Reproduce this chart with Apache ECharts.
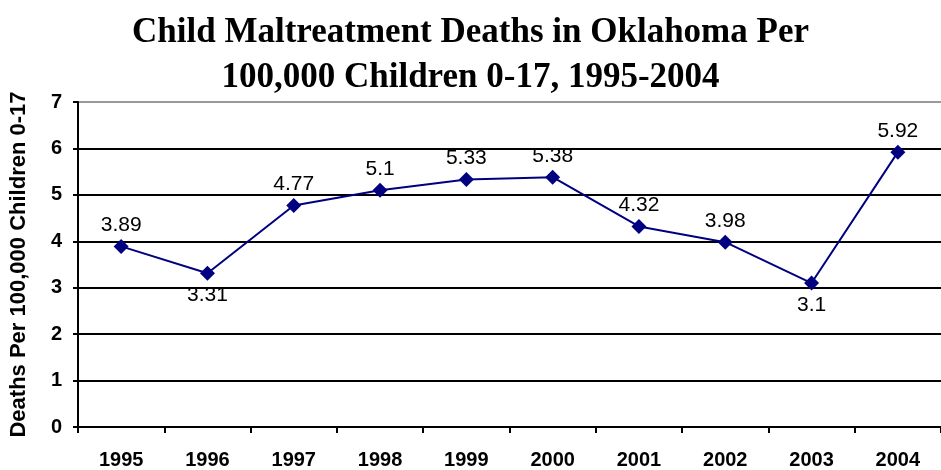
<!DOCTYPE html>
<html>
<head>
<meta charset="utf-8">
<script src="https://cdn.jsdelivr.net/npm/echarts@6/dist/echarts.min.js"></script>
<style>
  html, body { margin: 0; padding: 0; background: #fff; }
  #chart { width: 941px; height: 470px; }
</style>
</head>
<body>
<div id="chart"></div>
<script>
// data
var years = ['1995', '1996', '1997', '1998', '1999', '2000', '2001', '2002', '2003', '2004'];
var deathRates = [3.89, 3.31, 4.77, 5.1, 5.33, 5.38, 4.32, 3.98, 3.1, 5.92];
// labels sitting under the point instead of above
var labelsBelow = ['1996', '2003'];

var chart = echarts.init(document.getElementById('chart'));

var seriesData = deathRates.map(function (v, i) {
  var item = { value: v };
  if (labelsBelow.indexOf(years[i]) >= 0) {
    item.label = { position: 'bottom', distance: 4 };
  }
  return item;
});

chart.setOption({
  animation: false,
  title: {
    text: 'Child Maltreatment Deaths in Oklahoma Per\n100,000 Children 0-17, 1995-2004',
    left: 'center',
    top: 5,
    textStyle: {
      fontFamily: 'Liberation Serif',
      fontWeight: 'bold',
      fontSize: 35,
      lineHeight: 45,
      color: '#000'
    }
  },
  grid: { left: 76, right: -8, top: 102, bottom: 43 },
  xAxis: {
    type: 'category',
    data: years,
    boundaryGap: true,
    axisLine: { lineStyle: { color: '#000', width: 2 } },
    axisTick: { show: true, length: 6, lineStyle: { color: '#000', width: 2 } },
    axisLabel: {
      color: '#000',
      fontFamily: 'Liberation Sans',
      fontWeight: 'bold',
      fontSize: 20,
      margin: 23
    }
  },
  yAxis: {
    type: 'value',
    min: 0,
    max: 7,
    interval: 1,
    name: 'Deaths Per 100,000 Children 0-17',
    nameLocation: 'middle',
    nameGap: 48,
    nameTextStyle: {
      color: '#000',
      fontFamily: 'Liberation Sans',
      fontWeight: 'bold',
      fontSize: 22
    },
    axisLine: { show: true, lineStyle: { color: '#000', width: 2 } },
    axisTick: { show: true, length: 5, lineStyle: { color: '#000', width: 2 } },
    axisLabel: {
      color: '#000',
      fontFamily: 'Liberation Sans',
      fontWeight: 'bold',
      fontSize: 20,
      margin: 16
    },
    splitLine: {
      show: true,
      lineStyle: {
        color: ['#000', '#000', '#000', '#000', '#000', '#000', '#000', '#999'],
        width: 2
      }
    }
  },
  series: [{
    type: 'line',
    data: seriesData,
    symbol: 'diamond',
    symbolSize: 15,
    itemStyle: { color: '#000080' },
    lineStyle: { color: '#000080', width: 2 },
    label: {
      show: true,
      position: 'top',
      distance: 3,
      color: '#000',
      fontFamily: 'Liberation Sans',
      fontSize: 21
    }
  }]
});
</script>
</body>
</html>
